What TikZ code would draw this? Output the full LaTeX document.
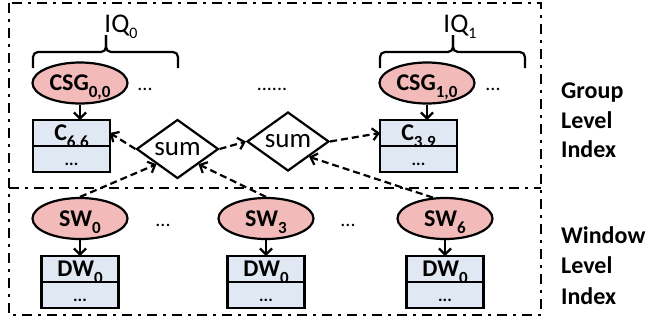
\documentclass[tikz,border=0pt]{standalone}
\usepackage{fontspec}
\setmainfont{Carlito}
\usepackage{tikz}
\usetikzlibrary{positioning}
\usetikzlibrary{arrows.meta,shapes}
\usetikzlibrary{calc}

\definecolor{keypink}{RGB}{243,186,186}
\definecolor{cellblue}{RGB}{224,232,243}

\newcommand{\lowidx}[1]{\raisebox{-7pt}{\fontsize{17}{17}\selectfont #1}}
\newcommand{\qidx}[1]{\raisebox{-6pt}{\fontsize{16}{16}\selectfont #1}}

\tikzset{
  key/.style={ellipse, draw, line width=2.2pt, fill=keypink, minimum width=95pt, minimum height=41pt,
    inner sep=0pt, text height=15pt, text depth=0pt, font=\fontsize{24}{28}\selectfont\bfseries},
  cell/.style={rectangle, draw, line width=2.2pt, fill=cellblue, minimum width=77pt, minimum height=26pt,
    inner sep=0pt, outer sep=0pt, text height=15pt, text depth=0pt, font=\fontsize{24}{28}\selectfont\bfseries},
  more/.style={cell, text height=13pt, font=\fontsize{17}{17}\selectfont\bfseries},
  sumop/.style={diamond, draw, line width=2.2pt, aspect=1.4, inner sep=0pt, minimum width=82pt,
    minimum height=59pt, font=\fontsize{27}{30}\selectfont},
  down/.style={-{Straight Barb[length=6pt,width=12pt]}, line width=2.2pt},
  feed/.style={down, dash pattern=on 7pt off 4pt},
  indexframe/.style={line width=2.4pt, dash pattern=on 10pt off 6pt on 3pt off 6pt},
  bracket/.style={line width=2.2pt, rounded corners=5pt},
  dots/.style={anchor=base, inner sep=0pt, font=\fontsize{20}{20}\selectfont},
  sidelabel/.style={anchor=base west, inner sep=0pt, font=\fontsize{24}{28}\selectfont\bfseries}
}

\begin{document}
\begin{tikzpicture}[x=1pt,y=-1pt]

  \useasboundingbox (0,0) rectangle (649,325);

  %frame
  \draw[indexframe] (9,3) rectangle (541,315);
  \draw[indexframe] (9,188) -- (541,188);

  %group level
  \node[key] (csg0) at (80,83) {CSG\lowidx{0,0}};
  \node[key] (csg1) at (427,83) {CSG\lowidx{1,0}};
  \node[cell] (c66) at (71.5,133) {C\lowidx{6.6}};
  \node[more, below=0pt of c66] (c66m) {...};
  \node[cell] (c39) at (418.5,133) {C\lowidx{3.9}};
  \node[more, below=0pt of c39] (c39m) {...};
  \draw[down] (csg0) -- (csg0 |- c66.north);
  \draw[down] (csg1) -- (csg1 |- c39.north);

  \node[dots] (dots0) at (145,90) {...};
  \node[dots] (dots1) at (272,90) {......};
  \node[dots] (dots2) at (493,90) {...};

  %queries
  \node[anchor=base, inner sep=0pt, font=\fontsize{27}{30}\selectfont] (iq0) at (121,32) {IQ\qidx{0}};
  \node[anchor=base, inner sep=0pt, font=\fontsize{27}{30}\selectfont] (iq1) at (460,32) {IQ\qidx{1}};
  \draw[bracket] (33,68) |- (106,52) -- (106,35);
  \draw[bracket] (178,68) |- (106,52) -- (106,35);
  \draw[bracket] (380,68) |- (453,52) -- (453,35);
  \draw[bracket] (525,68) |- (453,52) -- (453,35);

  %window level
  \foreach \x/\i/\name in {80/0/sw0, 266/3/sw3, 445/6/sw6}{
    \node[key] (\name) at (\x,218.5) {SW\lowidx{\i}};
    \node[cell] (d\name) at (\x,269) {DW\lowidx{0}};
    \node[more, below=0pt of d\name] (m\name) {...};
    \draw[down] (\name) -- (d\name);
  }
  \node[dots] (dots3) at (163,226) {...};
  \node[dots] (dots4) at (348,226) {...};

  %sums
  \node[sumop] (sum0) at (177.5,149) {sum};
  \node[sumop] (sum1) at (288,141.5) {sum};

  \draw[feed] (sum0.west) -- (c66.east);
  \draw[feed] (sum0.east) -- (sum1.west);
  \draw[feed] (sum1.east) -- (c39.west);
  \draw[feed] (sw0.north) -- (sum0.south west);
  \draw[feed] (sw3.north) -- (sum0.south east);
  \draw[feed] (sw6.120) -- (sum1.south east);

  %labels
  \foreach \y/\word/\name in {98/Group/g1, 128/Level/g2, 157/Index/g3, 243/Window/w1, 273/Level/w2, 304/Index/w3}{
    \node[sidelabel] (\name) at (561,\y) {\word};
  }

\end{tikzpicture}
\end{document}
